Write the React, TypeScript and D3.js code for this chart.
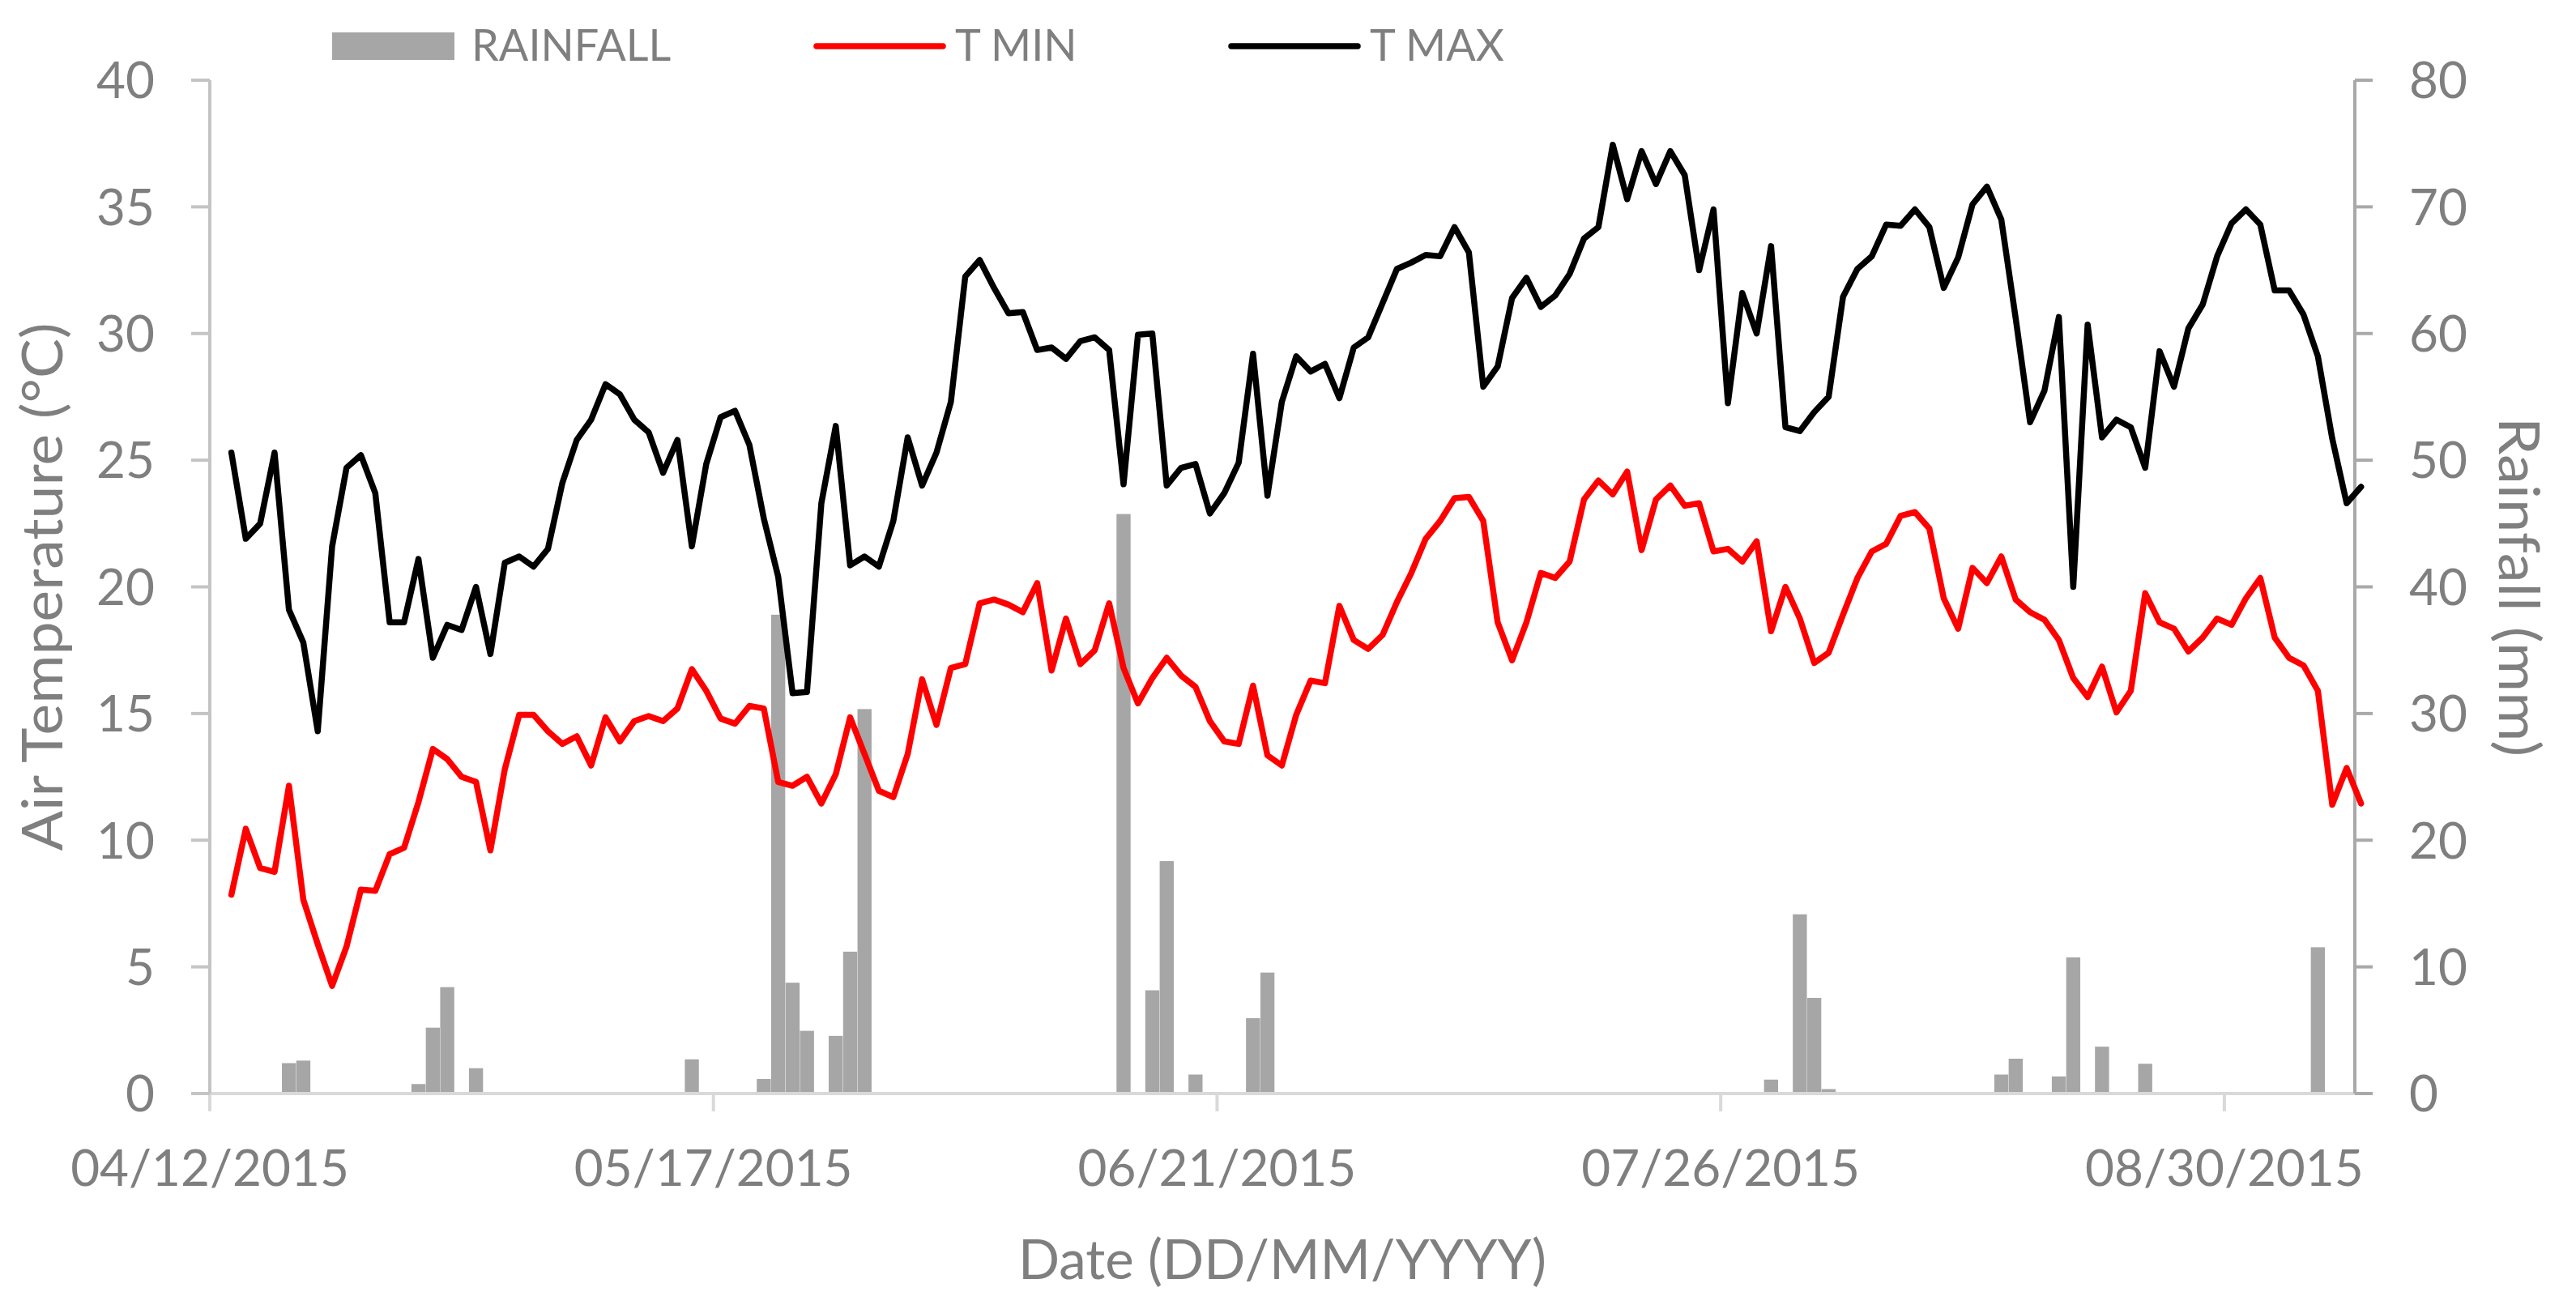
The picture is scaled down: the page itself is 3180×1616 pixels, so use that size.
import React, { useEffect } from "react";
import * as d3 from "d3";

// ---- DATA (daily series starting 04/13/2015) ----
const FIRST_DAY = "2015-04-13";

const tmax = [
  25.3, 21.9, 22.5, 25.3, 19.1, 17.8, 14.3, 21.6, 24.7, 25.2,
  23.7, 18.6, 18.6, 21.1, 17.2, 18.5, 18.3, 20.0, 17.35, 20.95,
  21.2, 20.8, 21.5, 24.1, 25.8, 26.6, 28.0, 27.6, 26.6, 26.1,
  24.5, 25.8, 21.6, 24.85, 26.7, 26.95, 25.6, 22.7, 20.4, 15.8,
  15.85, 23.3, 26.35, 20.85, 21.2, 20.8, 22.6, 25.9, 24.0, 25.3,
  27.3, 32.25, 32.9, 31.8, 30.8, 30.85, 29.35, 29.45, 29.0, 29.7,
  29.85, 29.35, 24.05, 29.95, 30.0, 24.0, 24.7, 24.85, 22.9, 23.7,
  24.9, 29.2, 23.6, 27.3, 29.1, 28.5, 28.8, 27.45, 29.45, 29.85,
  31.2, 32.55, 32.8, 33.1, 33.05, 34.2, 33.2, 27.9, 28.7, 31.4,
  32.2, 31.05, 31.5, 32.35, 33.75, 34.2, 37.45, 35.3, 37.2, 35.9,
  37.2, 36.25, 32.5, 34.9, 27.25, 31.6, 30.0, 33.45, 26.3, 26.15,
  26.9, 27.5, 31.45, 32.55, 33.05, 34.3, 34.25, 34.9, 34.2, 31.8,
  33.0, 35.1, 35.8, 34.5, 30.6, 26.5, 27.75, 30.65, 20.0, 30.35,
  25.9, 26.6, 26.3, 24.7, 29.3, 27.9, 30.2, 31.15, 33.05, 34.35,
  34.9, 34.3, 31.7, 31.7, 30.75, 29.1, 25.85, 23.3, 23.95,
];

const tmin = [
  7.85, 10.45, 8.9, 8.75, 12.15, 7.65, 5.9, 4.25, 5.8, 8.05,
  8.0, 9.45, 9.7, 11.5, 13.6, 13.2, 12.5, 12.3, 9.6, 12.8,
  14.95, 14.95, 14.3, 13.8, 14.1, 12.95, 14.85, 13.9, 14.7, 14.9,
  14.7, 15.2, 16.75, 15.9, 14.8, 14.6, 15.3, 15.2, 12.3, 12.15,
  12.5, 11.45, 12.6, 14.85, 13.4, 11.95, 11.7, 13.4, 16.35, 14.55,
  16.8, 16.95, 19.35, 19.5, 19.3, 19.0, 20.15, 16.7, 18.75, 16.95,
  17.5, 19.35, 16.8, 15.4, 16.4, 17.2, 16.5, 16.05, 14.7, 13.9,
  13.8, 16.1, 13.35, 12.95, 14.95, 16.3, 16.2, 19.25, 17.9, 17.55,
  18.1, 19.4, 20.55, 21.9, 22.6, 23.5, 23.55, 22.6, 18.6, 17.1,
  18.6, 20.55, 20.35, 21.0, 23.45, 24.2, 23.65, 24.55, 21.45, 23.45,
  24.0, 23.2, 23.3, 21.4, 21.5, 21.0, 21.8, 18.25, 20.0, 18.75,
  17.0, 17.4, 18.9, 20.35, 21.4, 21.7, 22.8, 22.95, 22.3, 19.55,
  18.35, 20.75, 20.15, 21.2, 19.5, 19.0, 18.7, 17.9, 16.4, 15.65,
  16.85, 15.05, 15.9, 19.75, 18.6, 18.35, 17.45, 18.0, 18.75, 18.5,
  19.55, 20.35, 18.0, 17.2, 16.9, 15.9, 11.4, 12.85, 11.45,
];

const rainfall = [
  0, 0, 0, 0, 2.4, 2.6, 0, 0, 0, 0,
  0, 0, 0, 0.75, 5.2, 8.4, 0, 2.0, 0, 0,
  0, 0, 0, 0, 0, 0, 0, 0, 0, 0,
  0, 0, 2.7, 0, 0, 0, 0, 1.15, 37.8, 8.75,
  4.95, 0, 4.55, 11.2, 30.35, 0, 0, 0, 0, 0,
  0, 0, 0, 0, 0, 0, 0, 0, 0, 0,
  0, 0, 45.75, 0, 8.15, 18.35, 0, 1.5, 0, 0,
  0, 5.95, 9.55, 0, 0, 0, 0, 0, 0, 0,
  0, 0, 0, 0, 0, 0, 0, 0, 0, 0,
  0, 0, 0, 0, 0, 0, 0, 0, 0, 0,
  0, 0, 0, 0, 0, 0, 0, 1.1, 0, 14.15,
  7.55, 0.35, 0, 0, 0, 0, 0, 0, 0, 0,
  0, 0, 0, 1.5, 2.75, 0, 0, 1.35, 10.75, 0,
  3.7, 0, 0, 2.35, 0, 0, 0, 0, 0, 0,
  0, 0, 0, 0, 0, 11.55, 0, 0, 0,
];

const xTickDates = ["2015-04-12", "2015-05-17", "2015-06-21", "2015-07-26", "2015-08-30"];
const tempTicks = [0, 5, 10, 15, 20, 25, 30, 35, 40];
const rainTicks = [0, 10, 20, 30, 40, 50, 60, 70, 80];

const legendItems = ["RAINFALL", "T MIN", "T MAX"];

// ---- LAYOUT ----
const W = 3180;
const H = 1616;
const PL = 259;
const PR = 2907;
const PT = 99;
const PB = 1350;
const FONT = "Lato, 'Noto Sans', sans-serif";
const TEXT = "#7f7f7f";
const DAY = 864e5;
const LW = 7.5;

export default function App() {
  useEffect(() => {
    document.body.style.margin = "0";
  }, []);

  const t0 = Date.parse(xTickDates[0] + "T00:00:00Z");
  const x = d3
    .scaleUtc()
    .domain([new Date(t0), new Date(t0 + 149.07 * DAY)])
    .range([PL, PR]);
  const yT = d3.scaleLinear().domain([0, 40]).range([PB, PT]);
  const yR = d3.scaleLinear().domain([0, 80]).range([PB, PT]);

  const first = Date.parse(FIRST_DAY + "T00:00:00Z");
  const dates = tmax.map((_, i) => new Date(first + i * DAY));
  const mid = (d: Date) => x(new Date(d.getTime() + DAY / 2));
  const fmt = d3.utcFormat("%m/%d/%Y");

  const mkLine = (vals: number[]) =>
    d3
      .line<number>()
      .x((_, i) => mid(dates[i]))
      .y((v) => yT(v))(vals) || "";

  const tickDates = xTickDates.map((s) => new Date(Date.parse(s + "T00:00:00Z")));

  return (
    <svg
      width={W}
      height={H}
      viewBox={`0 0 ${W} ${H}`}
      style={{ position: "absolute", left: 0, top: 0, background: "#fff" }}
    >
      <rect x={0} y={0} width={W} height={H} fill="#fff" />

      {/* Rainfall bars */}
      {rainfall.map((r, i) => {
        if (r <= 0) return null;
        const x0 = x(dates[i]);
        const x1 = x(new Date(dates[i].getTime() + DAY));
        return (
          <rect
            key={"b" + i}
            x={x0 + 0.2}
            y={yR(r)}
            width={x1 - x0 - 0.4}
            height={yR(0) - yR(r)}
            fill="#a6a6a6"
          />
        );
      })}

      {/* X axis */}
      <line x1={PL} x2={PR} y1={PB} y2={PB} stroke="#d9d9d9" strokeWidth={4} />
      {tickDates.map((d, i) => (
        <g key={"xt" + i}>
          <line x1={x(d)} x2={x(d)} y1={PB} y2={PB + 22} stroke="#d9d9d9" strokeWidth={4} />
          <text
            x={x(d)}
            y={1464}
            textAnchor="middle"
            fontFamily={FONT}
            fontSize={62}
            fill={TEXT}
          >
            {fmt(d)}
          </text>
        </g>
      ))}

      {/* Left axis */}
      <line x1={PL} x2={PL} y1={PT} y2={PB} stroke="#c4c4c4" strokeWidth={4} />
      {tempTicks.map((t) => (
        <g key={"lt" + t}>
          <line x1={PL - 23} x2={PL} y1={yT(t)} y2={yT(t)} stroke="#c4c4c4" strokeWidth={4} />
          <text
            x={191}
            y={yT(t)}
            dy="0.36em"
            textAnchor="end"
            fontFamily={FONT}
            fontSize={62}
            fill={TEXT}
          >
            {t}
          </text>
        </g>
      ))}

      {/* Right axis */}
      <line x1={PR} x2={PR} y1={PT} y2={PB} stroke="#a9a9a9" strokeWidth={4} />
      {rainTicks.map((t) => (
        <g key={"rt" + t}>
          <line x1={PR} x2={PR + 22} y1={yR(t)} y2={yR(t)} stroke="#a9a9a9" strokeWidth={4} />
          <text
            x={2974}
            y={yR(t)}
            dy="0.36em"
            textAnchor="start"
            fontFamily={FONT}
            fontSize={62}
            fill={TEXT}
          >
            {t}
          </text>
        </g>
      ))}

      {/* Temperature lines */}
      <path d={mkLine(tmin)} fill="none" stroke="#ff0000" strokeWidth={LW} strokeLinejoin="round" strokeLinecap="round" />
      <path d={mkLine(tmax)} fill="none" stroke="#000000" strokeWidth={LW} strokeLinejoin="round" strokeLinecap="round" />

      {/* Axis titles */}
      <text
        x={(PL + PR) / 2}
        y={1579}
        textAnchor="middle"
        fontFamily={FONT}
        fontSize={68}
        fill={TEXT}
        textLength={652}
        lengthAdjust="spacingAndGlyphs"
      >
        Date (DD/MM/YYYY)
      </text>
      <text
        transform={`translate(77,${(PT + PB) / 2}) rotate(-90)`}
        textAnchor="middle"
        fontFamily={FONT}
        fontSize={70}
        fill={TEXT}
        textLength={652}
        lengthAdjust="spacingAndGlyphs"
      >
        Air Temperature (°C)
      </text>
      <text
        transform={`translate(3085,${(PT + PB) / 2}) rotate(90)`}
        textAnchor="middle"
        fontFamily={FONT}
        fontSize={70}
        fill={TEXT}
        textLength={419}
        lengthAdjust="spacingAndGlyphs"
      >
        Rainfall (mm)
      </text>

      {/* Legend */}
      <rect x={410} y={40} width={151} height={34} fill="#a6a6a6" />
      <text x={582} y={75} fontFamily={FONT} fontSize={54} fill={TEXT}>
        {legendItems[0]}
      </text>
      <line x1={1008} x2={1164} y1={57} y2={57} stroke="#ff0000" strokeWidth={LW} strokeLinecap="round" />
      <text x={1179} y={75} fontFamily={FONT} fontSize={54} fill={TEXT}>
        {legendItems[1]}
      </text>
      <line x1={1520} x2={1676} y1={57} y2={57} stroke="#000000" strokeWidth={LW} strokeLinecap="round" />
      <text x={1691} y={75} fontFamily={FONT} fontSize={54} fill={TEXT}>
        {legendItems[2]}
      </text>
    </svg>
  );
}
